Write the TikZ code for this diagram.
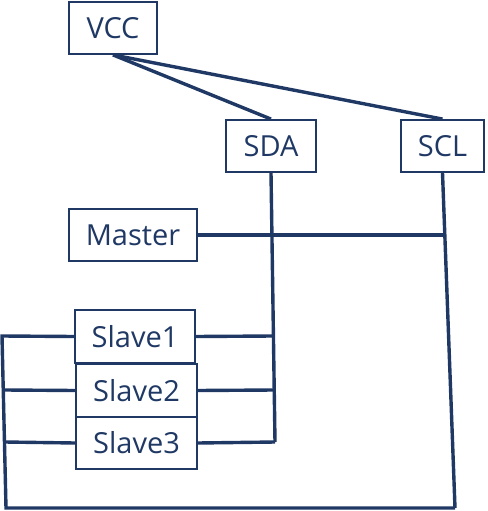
\documentclass[tikz,border=0pt]{standalone}
\usepackage{fontspec}
\setmainfont{Open Sans}
\definecolor{navy}{HTML}{1F3864}
\begin{document}
\begin{tikzpicture}[x=1pt,y=-1pt,
  box/.style={draw=navy,line width=1.8pt,rectangle,inner sep=0pt,text=navy,font=\fontsize{29}{34}\selectfont,minimum height=52pt},
  wire/.style={draw=navy,line width=3.4pt}]
\useasboundingbox (0,0) rectangle (487,511);
\node[box,minimum width=88pt] (vcc) at (113,28) {VCC};
\node[box,minimum width=90pt] (sda) at (271,146) {SDA};
\node[box,minimum width=83pt] (scl) at (442.5,146) {SCL};
\node[box,minimum width=128pt] (master) at (133,235) {Master};
\node[box,minimum width=120pt,minimum height=53pt] (s1) at (135,336.5) {Slave1};
\node[box,minimum width=121pt,minimum height=53pt] (s2) at (136.5,390.5) {Slave2};
\node[box,minimum width=121pt,minimum height=52pt] (s3) at (136.5,443) {Slave3};
\coordinate (sdaend) at (275,442);
\coordinate (sda1) at (273,336);
\coordinate (sda2) at (274,390);
\coordinate (sclm) at (445,235);
\coordinate (sclend) at (455,508);
\coordinate (lt) at (2,336);
\coordinate (lb) at (6,508);
\coordinate (l2) at (5,390);
\coordinate (l3) at (5,442);
\draw[wire] (vcc.south) -- (sda.north);
\draw[wire] (vcc.south) -- (scl.north);
\draw[wire] (sda.south) -- (sdaend);
\draw[wire] (scl.south) -- (sclend);
\draw[wire] (master.east) -- (sclm);
\draw[wire] (s1.east) -- (sda1);
\draw[wire] (s2.east) -- (sda2);
\draw[wire] (s3.east) -- (sdaend);
\draw[wire] (s1.west) -- (lt) -- (lb) -- (sclend);
\draw[wire] (s2.west) -- (l2);
\draw[wire] (s3.west) -- (l3);
\end{tikzpicture}
\end{document}
